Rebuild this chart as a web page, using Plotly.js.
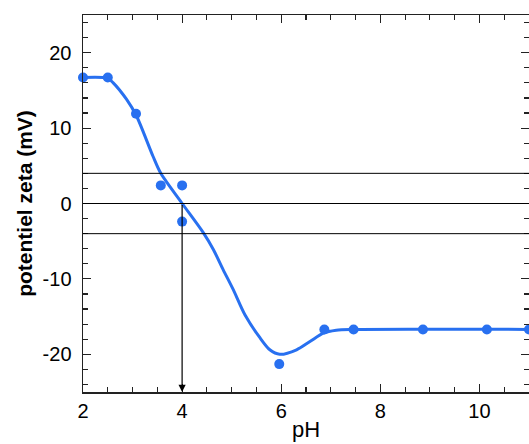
<!DOCTYPE html>
<html>
<head>
<meta charset="utf-8">
<script src="https://cdn.plot.ly/plotly-3.0.1.min.js"></script>
<style>html,body{margin:0;padding:0;background:#fff;}#chart{width:529px;height:444px;}</style>
</head>
<body>
<div id="chart"></div>
<script>
// measured points
const pointsPH   = [2, 2.5, 3.07, 3.57, 4.0, 4.0, 5.96, 6.87, 7.46, 8.86, 10.15, 11.0];
const pointsZeta = [16.7, 16.7, 11.9, 2.4, 2.4, -2.4, -21.3, -16.7, -16.7, -16.7, -16.7, -16.7];
// fitted smooth curve
const curvePH   = [2, 2.5, 2.61, 2.88, 3.08, 3.41, 3.57, 3.99, 4.43, 4.63, 4.83, 5.03, 5.27, 5.57, 5.77, 5.97, 6.31, 6.58, 6.85, 7.11, 7.45, 11];
const curveZeta = [16.7, 16.6, 16.0, 13.8, 11.6, 6.3, 4.0, 0.1, -3.9, -6.1, -8.8, -11.4, -14.8, -17.8, -19.4, -20.0, -19.4, -18.3, -17.2, -16.8, -16.7, -16.7];
// reference levels and marked pH
const refLevels = [4, 0, -4];
const markedPH = 4;
const xRange = [2, 11];
const yRange = [-25, 25];
// tick labels
const xTickVals = [2, 4, 6, 8, 10];
const xTickText = ['2', '4', '6', '8', '10'];
const yTickVals = [-20, -10, 0, 10, 20];
const yTickText = ['-20', '-10', '0', '10', '20'];

const blue = 'rgb(40,112,240)';
const traces = [
  {x: curvePH, y: curveZeta, mode: 'lines', line: {color: blue, width: 3, shape: 'spline', smoothing: 0.8}, hoverinfo: 'skip'},
  {x: pointsPH, y: pointsZeta, mode: 'markers', marker: {color: blue, size: 10}, cliponaxis: false}
];
const shapes = refLevels.map(v => ({type: 'line', xref: 'paper', x0: 0, x1: 1, yref: 'y', y0: v, y1: v, line: {color: '#000', width: 1}}));
const annotations = [{x: markedPH, y: yRange[0], ax: markedPH, ay: 0, xref: 'x', yref: 'y', axref: 'x', ayref: 'y', showarrow: true, arrowhead: 2, arrowsize: 1.2, arrowwidth: 1.2, arrowcolor: '#000', text: ''}];
const fam = '"Liberation Sans", Arial, Helvetica, sans-serif';
const axisCommon = {showline: true, linecolor: '#222', linewidth: 1.5, mirror: 'allticks', ticks: 'inside', ticklen: 8, tickwidth: 1.2, tickcolor: '#222', showgrid: false, zeroline: false, tickfont: {size: 20, family: fam, color: '#000'}};
const layout = {
  width: 529, height: 444,
  margin: {l: 83, r: 0, t: 15, b: 52},
  paper_bgcolor: '#fff', plot_bgcolor: '#fff',
  showlegend: false,
  font: {family: fam, color: '#000'},
  xaxis: Object.assign({}, axisCommon, {range: xRange, tickmode: 'array', tickvals: xTickVals, ticktext: xTickText,
    minor: {dtick: 0.5, tick0: 2, ticks: 'inside', ticklen: 5, tickcolor: '#222', tickwidth: 1.2},
    title: {text: 'pH', font: {size: 22, family: fam, color: '#000'}, standoff: 1}}),
  yaxis: Object.assign({}, axisCommon, {range: yRange, tickmode: 'array', tickvals: yTickVals, ticktext: yTickText, ticklabelstandoff: 6,
    minor: {dtick: 2, tick0: 0, ticks: 'inside', ticklen: 5, tickcolor: '#222', tickwidth: 1.2},
    title: {text: 'potentiel zeta (mV)', font: {size: 21, family: fam, color: '#000', weight: 'bold'}, standoff: 4}}),
  shapes: shapes,
  annotations: annotations
};
Plotly.newPlot('chart', traces, layout, {staticPlot: true, displayModeBar: false});
</script>
</body>
</html>
